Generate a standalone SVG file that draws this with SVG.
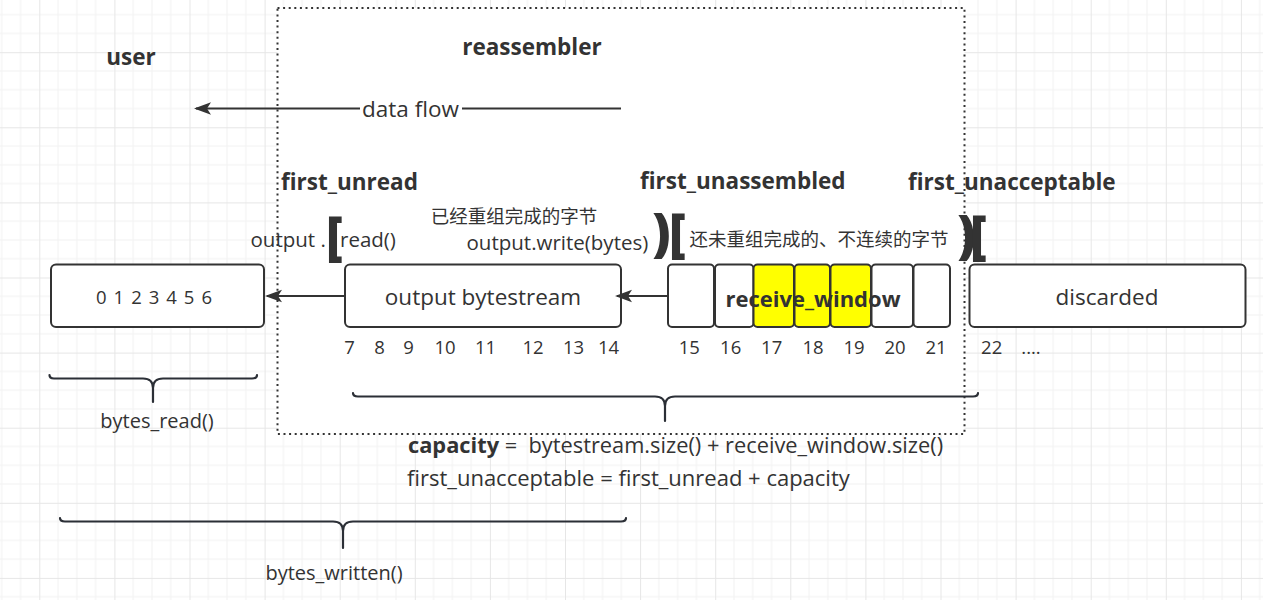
<svg xmlns="http://www.w3.org/2000/svg" width="1263" height="600" viewBox="0 0 1263 600">
  <style>
    text { font-family: "Open Sans", "Noto Sans CJK SC", sans-serif; fill: #333333; }
    .title { font-size: 22.5px; font-weight: bold; }
    .reg { font-size: 22.5px; }
    .mid { font-size: 20.5px; }
    .num { font-size: 18.5px; }
    .cjk { font-size: 18.5px; font-family: "Noto Sans CJK SC", sans-serif; }
    .brk { font-size: 52px; font-weight: 800; }
    .box { fill: #ffffff; stroke: #333333; stroke-width: 2; }
    .cell { stroke: #333333; stroke-width: 2; }
    .conn { stroke: #333333; stroke-width: 2; fill: none; }
    .brace { stroke: #2b2f36; stroke-width: 2.2; fill: none; stroke-linecap: round; stroke-linejoin: round; }
  </style>
  <defs>
    <pattern id="grid" patternUnits="userSpaceOnUse" x="39.3" y="52.2" width="75.1" height="75.1">
      <path d="M18.78 0V75.1M37.55 0V75.1M56.33 0V75.1M0 18.78H75.1M0 37.55H75.1M0 56.33H75.1" stroke="#f2f2f2" stroke-width="1" fill="none"/>
      <path d="M0.5 0V75.1M0 0.5H75.1" stroke="#e6e6e6" stroke-width="1" fill="none"/>
    </pattern>
    <marker id="arr" markerUnits="userSpaceOnUse" markerWidth="18" markerHeight="14" refX="15" refY="7" orient="auto">
      <path d="M0,0.8 L17,7 L0,13.2 L4,7 z" fill="#333333"/>
    </marker>
  </defs>

  <rect x="0" y="0" width="1263" height="600" fill="#ffffff"/>
  <rect x="0" y="0" width="1263" height="600" fill="url(#grid)"/>

  <g id="reassembler-frame">
    <rect x="277.5" y="8" width="687" height="426" fill="#ffffff" stroke="#333333" stroke-width="2" stroke-dasharray="2 3.6"/>
    <text class="title" x="532" y="55" text-anchor="middle">reassembler</text>
  </g>

  <g id="user">
    <text class="title" x="131" y="65" text-anchor="middle">user</text>
  </g>

  <g id="braces">
    <path class="brace" d="M49.5,375 Q49.5,378.5 54,378.5 L143,378.5 Q153,378.5 153,388 L153,402 M153,388 Q153,378.5 163,378.5 L252,378.5 Q257,378.5 257,375"/>
    <path class="brace" d="M353,393 Q353,396.5 358,396.5 L655,396.5 Q665,396.5 665,406 L665,421 M665,406 Q665,396.5 675,396.5 L973,396.5 Q978,396.5 978,393"/>
    <path class="brace" d="M60,518 Q60,521.5 65,521.5 L333,521.5 Q343,521.5 343,531 L343,548 M343,531 Q343,521.5 353,521.5 L621,521.5 Q626,521.5 626,518"/>
  </g>

  <g id="box-read">
    <rect class="box" x="51" y="264.5" width="213" height="62.5" rx="5"/>
    <text class="num" x="154" y="304" text-anchor="middle" textLength="116">0 1 2 3 4 5 6</text>
  </g>

  <g id="box-bytestream">
    <rect class="box" x="345" y="264.5" width="276" height="62.5" rx="5"/>
    <text class="reg" x="483" y="305" text-anchor="middle">output bytestream</text>
  </g>

  <g id="receive-window">
    <rect class="cell" x="668" y="264.5" width="46" height="62.5" rx="4" fill="#ffffff"/>
    <rect class="cell" x="715" y="264.5" width="38.5" height="62.5" rx="4" fill="#ffffff"/>
    <rect class="cell" x="753.5" y="264.5" width="40.5" height="62.5" rx="4" fill="#ffff00"/>
    <rect class="cell" x="794.5" y="264.5" width="35.5" height="62.5" rx="4" fill="#ffff00"/>
    <rect class="cell" x="830.5" y="264.5" width="40.5" height="62.5" rx="4" fill="#ffff00"/>
    <rect class="cell" x="871.5" y="264.5" width="41.5" height="62.5" rx="4" fill="#ffffff"/>
    <rect class="cell" x="913.5" y="264.5" width="36.5" height="62.5" rx="4" fill="#ffffff"/>
    <text x="813" y="306.5" text-anchor="middle" font-size="22px" font-weight="bold">receive_window</text>
  </g>

  <g id="box-discarded">
    <rect class="box" x="969.5" y="264.5" width="276" height="62.5" rx="5"/>
    <text class="reg" x="1107" y="305" text-anchor="middle">discarded</text>
  </g>

  <g id="connectors">
    <line class="conn" x1="621" y1="108.5" x2="462" y2="108.5"/>
    <line class="conn" x1="360" y1="108.5" x2="196" y2="108.5" marker-end="url(#arr)"/>
    <line class="conn" x1="344" y1="296" x2="267" y2="296" marker-end="url(#arr)"/>
    <line class="conn" x1="667" y1="296" x2="617" y2="296" marker-end="url(#arr)"/>
  </g>
  <text class="reg" x="410.5" y="116.5" text-anchor="middle">data flow</text>

  <g id="index-labels">
    <text class="num" y="354" text-anchor="middle"><tspan x="349.5">7</tspan><tspan x="379.5">8</tspan><tspan x="408.5">9</tspan><tspan x="445">10</tspan><tspan x="485.5">11</tspan><tspan x="533">12</tspan><tspan x="573.5">13</tspan><tspan x="608.5">14</tspan><tspan x="689.3">15</tspan><tspan x="730.7">16</tspan><tspan x="771.7">17</tspan><tspan x="813">18</tspan><tspan x="854">19</tspan><tspan x="895">20</tspan><tspan x="936">21</tspan><tspan x="991.7">22</tspan><tspan x="1031">....</tspan></text>
  </g>

  <g id="pointers">
    <text class="title" x="281" y="190">first_unread</text>
    <text class="title" x="640" y="189">first_unassembled</text>
    <text class="title" x="908" y="190">first_unacceptable</text>
    <text class="cjk" x="514" y="223" text-anchor="middle">已经重组完成的字节</text>
    <text class="cjk" x="819" y="246" text-anchor="middle">还未重组完成的、不连续的字节</text>
    <text class="mid" x="250.5" y="247">output .<tspan x="340">read()</tspan></text>
    <text class="mid" x="466.5" y="250">output.write(bytes)</text>
    <text class="brk" x="326" y="254">[</text>
    <text class="brk" y="250.5"><tspan x="652">)</tspan><tspan x="669">[</tspan></text>
    <text class="brk" y="252.5"><tspan x="957">)</tspan><tspan x="970">[</tspan></text>
  </g>

  <g id="notes">
    <text x="157" y="428" text-anchor="middle" font-size="20px">bytes_read()</text>
    <text x="334" y="580" text-anchor="middle" font-size="20px">bytes_written()</text>
    <text x="408" y="453" font-size="21.8px" xml:space="preserve"><tspan font-weight="bold">capacity</tspan> =  bytestream.size() + receive_window.size()</text>
    <text x="407" y="486" font-size="22px">first_unacceptable = first_unread + capacity</text>
  </g>
</svg>
